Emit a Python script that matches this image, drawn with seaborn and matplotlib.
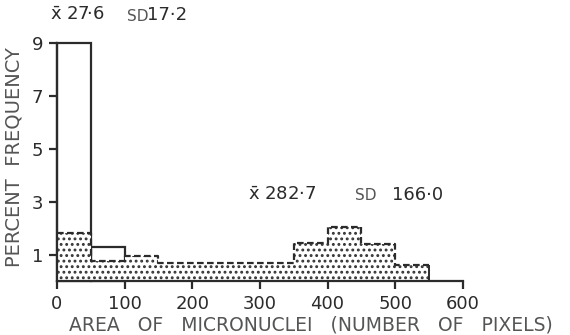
import numpy as np
import pandas as pd
import matplotlib
matplotlib.use("Agg")
import matplotlib.pyplot as plt
import seaborn as sns

# ---- data ----
bin_edges = [0, 50, 100, 150, 200, 250, 300, 350, 400, 450, 500, 550]
# first distribution (open histogram), percent frequency per bin
open_left = [0, 50]
open_heights = [9.0, 1.3]
# second distribution (dotted histogram)
dot_left = [0, 50, 100, 150, 200, 250, 300, 350, 400, 450, 500]
dot_heights = [1.8, 0.75, 0.95, 0.7, 0.7, 0.7, 0.7, 1.45, 2.05, 1.4, 0.6]
x_ticks = [0, 100, 200, 300, 400, 500, 600]
y_ticks = [1, 3, 5, 7, 9]

sns.set_theme(style="white")
plt.rcParams['font.family'] = ['DejaVu Sans']
plt.rcParams['hatch.linewidth'] = 1.3

ink = "#2b2b2b"
grey = "#555555"

fig = plt.figure(figsize=(5.7, 3.35), dpi=100)
ax = fig.add_axes([0.1, 0.161, 0.712, 0.711])

df_open = pd.DataFrame({"x": open_left, "w": open_heights})
df_dot = pd.DataFrame({"x": dot_left, "w": dot_heights})

# open histogram outline
sns.histplot(data=df_open, x="x", weights="w", bins=bin_edges[:3], stat="count",
             element="bars", fill=False, color=ink, linewidth=1.6, ax=ax)
for p in ax.patches:
    p.set_edgecolor(ink)
    p.set_clip_on(False)

# dotted histogram fill
n_before = len(ax.patches)
sns.histplot(data=df_dot, x="x", weights="w", bins=bin_edges, stat="count",
             element="bars", fill=True, ax=ax)
for p in ax.patches[n_before:]:
    p.set_facecolor("white")
    p.set_edgecolor("#333333")
    p.set_linewidth(0)
    p.set_hatch("...")
    p.set_alpha(1)

# dashed outline of dotted histogram
sns.histplot(data=df_dot, x="x", weights="w", bins=bin_edges, stat="count",
             element="step", fill=False, color=ink, linewidth=1.6,
             linestyle=(0, (3, 1.5)), ax=ax)
ax.vlines(bin_edges[-1], 0, dot_heights[-1], color=ink, linewidth=1.4)

ax.set_xlim(0, 600)
ax.set_ylim(0, 9)
ax.set_xticks(x_ticks)
ax.set_yticks(y_ticks)
xl = ax.set_xlabel("AREA   OF   MICRONUCLEI   (NUMBER   OF   PIXELS)", fontsize=13.5,
                   color=grey)
xl.set_verticalalignment("center")
ax.xaxis.set_label_coords(0.626, -0.184)
yl = ax.set_ylabel("PERCENT  FREQUENCY", fontsize=14, color=grey)
yl.set_verticalalignment("center")
ax.yaxis.set_label_coords(-0.105, 0.52)

for s in ["top", "right"]:
    ax.spines[s].set_visible(False)
for s in ["left", "bottom"]:
    ax.spines[s].set_color(ink)
    ax.spines[s].set_linewidth(1.6)
ax.tick_params(axis="both", direction="out", length=6, width=1.6, color=ink,
               labelsize=13, labelcolor=ink, bottom=True, left=True, pad=4)
ax.grid(False)

fig.text(0.088, 0.955, r"$\bar{\mathrm{x}}$ 27·6", fontsize=13, color=ink, va="center")
fig.text(0.223, 0.952, "SD", fontsize=11, color=grey, va="center")
fig.text(0.258, 0.955, "17·2", fontsize=13, color=ink, va="center")
fig.text(0.435, 0.418, r"$\bar{\mathrm{x}}$ 282·7", fontsize=13, color=ink, va="center")
fig.text(0.623, 0.415, "SD", fontsize=11, color=grey, va="center")
fig.text(0.688, 0.418, "166·0", fontsize=13, color=ink, va="center")

fig.savefig("out.png", dpi=100, facecolor="white")
